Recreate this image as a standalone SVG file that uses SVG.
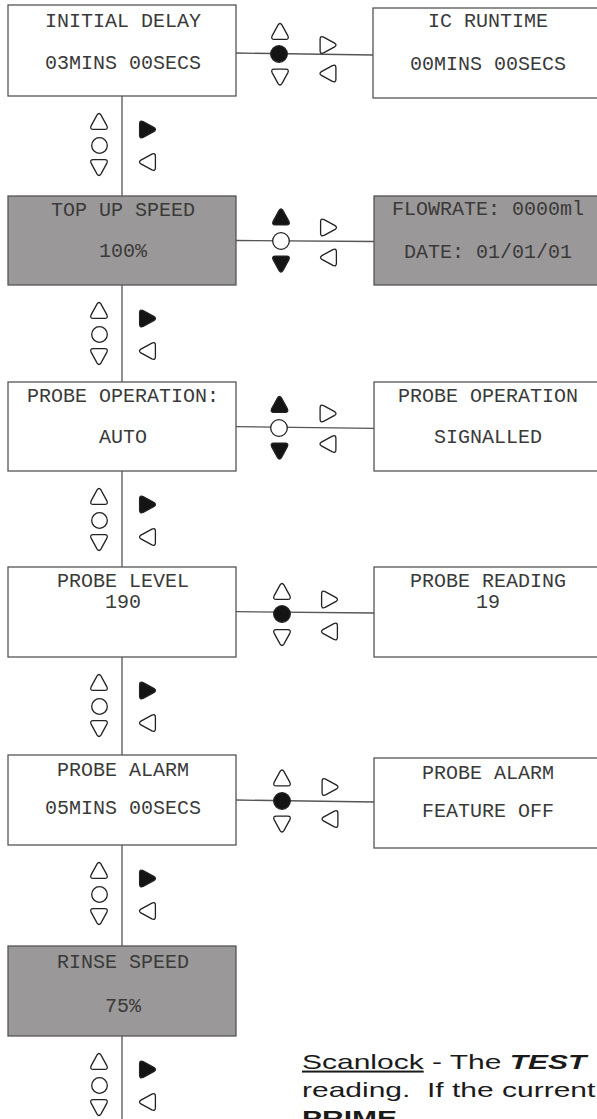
<svg xmlns="http://www.w3.org/2000/svg" width="597" height="1119" viewBox="0 0 597 1119">
  <style>
    .box { fill: #ffffff; stroke: #555555; stroke-width: 1.3; }
    .box.lit { fill: #9a9898; }
    .lbl { font-family: "Liberation Mono", "Courier New", monospace; font-size: 20px; fill: #3a3a3a; text-anchor: middle; }
    .wire { stroke: #555555; stroke-width: 1.3; fill: none; }
    .key { stroke: #222222; stroke-width: 1.3; fill: #ffffff; }
    .key.on { fill: #141414; }
    .note { font-family: "Liberation Sans", Arial, sans-serif; font-size: 20px; fill: #1a1a1a; white-space: pre; }
  </style>
  <defs>
    <!-- rounded triangle pointing up, centred on the origin -->
    <path id="tri" d="M -1.9,-6.6 Q 0,-9.4 1.9,-6.6 L 7.9,4.4 Q 9.4,7.9 5.7,7.9 L -5.7,7.9 Q -9.4,7.9 -7.9,4.4 Z"/>
  </defs>

  <!-- connectors -->
  <g id="connectors">
    <line class="wire" x1="122" y1="96" x2="122" y2="196"/>
    <line class="wire" x1="122" y1="285" x2="122" y2="382"/>
    <line class="wire" x1="122" y1="471" x2="122" y2="567"/>
    <line class="wire" x1="122" y1="657" x2="122" y2="755"/>
    <line class="wire" x1="122" y1="845" x2="122" y2="946"/>
    <line class="wire" x1="122" y1="1036" x2="122" y2="1119"/>
    <line class="wire" x1="236" y1="53" x2="373" y2="55"/>
    <line class="wire" x1="236" y1="240.5" x2="374" y2="241.5"/>
    <line class="wire" x1="236" y1="426.7" x2="374" y2="428.3"/>
    <line class="wire" x1="236" y1="611.7" x2="374" y2="613"/>
    <line class="wire" x1="236" y1="800" x2="374" y2="802"/>
  </g>

  <!-- screens -->
  <g id="initial-delay">
    <rect class="box" x="8" y="5" width="228" height="91"/>
    <text class="lbl" x="123" y="27">INITIAL DELAY</text>
    <text class="lbl" x="123" y="69">03MINS 00SECS</text>
  </g>
  <g id="ic-runtime">
    <rect class="box" x="373" y="8" width="229" height="90"/>
    <text class="lbl" x="488" y="27">IC RUNTIME</text>
    <text class="lbl" x="488" y="70">00MINS 00SECS</text>
  </g>
  <g id="top-up-speed">
    <rect class="box lit" x="8" y="196" width="228" height="89"/>
    <text class="lbl" x="123" y="216">TOP UP SPEED</text>
    <text class="lbl" x="123" y="257">100%</text>
  </g>
  <g id="flowrate">
    <rect class="box lit" x="374" y="196" width="228" height="89"/>
    <text class="lbl" x="488" y="215">FLOWRATE: 0000ml</text>
    <text class="lbl" x="488" y="258">DATE: 01/01/01</text>
  </g>
  <g id="probe-operation">
    <rect class="box" x="8" y="382" width="228" height="89"/>
    <text class="lbl" x="123" y="402">PROBE OPERATION:</text>
    <text class="lbl" x="123" y="443">AUTO</text>
  </g>
  <g id="probe-operation-signalled">
    <rect class="box" x="374" y="382" width="228" height="89"/>
    <text class="lbl" x="488" y="402">PROBE OPERATION</text>
    <text class="lbl" x="488" y="443">SIGNALLED</text>
  </g>
  <g id="probe-level">
    <rect class="box" x="8" y="567" width="228" height="90"/>
    <text class="lbl" x="123" y="587">PROBE LEVEL</text>
    <text class="lbl" x="123" y="608">190</text>
  </g>
  <g id="probe-reading">
    <rect class="box" x="374" y="567" width="228" height="90"/>
    <text class="lbl" x="488" y="587">PROBE READING</text>
    <text class="lbl" x="488" y="608">19</text>
  </g>
  <g id="probe-alarm">
    <rect class="box" x="8" y="755" width="228" height="90"/>
    <text class="lbl" x="123" y="776">PROBE ALARM</text>
    <text class="lbl" x="123" y="814">05MINS 00SECS</text>
  </g>
  <g id="probe-alarm-off">
    <rect class="box" x="374" y="758" width="228" height="90"/>
    <text class="lbl" x="488" y="779">PROBE ALARM</text>
    <text class="lbl" x="488" y="817">FEATURE OFF</text>
  </g>
  <g id="rinse-speed">
    <rect class="box lit" x="8" y="946" width="228" height="90"/>
    <text class="lbl" x="123" y="968">RINSE SPEED</text>
    <text class="lbl" x="123" y="1012">75%</text>
  </g>

  <!-- key presses between screens down the left column -->
  <g id="keys-down-1" transform="translate(0 96)">
    <use href="#tri" class="key" transform="translate(99 25.5)"/>
    <circle class="key" cx="99.5" cy="49.5" r="7.8"/>
    <use href="#tri" class="key" transform="translate(99 71.5) rotate(180)"/>
    <use href="#tri" class="key on" transform="translate(147.5 33.5) rotate(90)"/>
    <use href="#tri" class="key" transform="translate(147.5 66) rotate(-90)"/>
  </g>
  <g id="keys-down-2" transform="translate(0 285)">
    <use href="#tri" class="key" transform="translate(99 25.5)"/>
    <circle class="key" cx="99.5" cy="49.5" r="7.8"/>
    <use href="#tri" class="key" transform="translate(99 71.5) rotate(180)"/>
    <use href="#tri" class="key on" transform="translate(147.5 33.5) rotate(90)"/>
    <use href="#tri" class="key" transform="translate(147.5 66) rotate(-90)"/>
  </g>
  <g id="keys-down-3" transform="translate(0 471)">
    <use href="#tri" class="key" transform="translate(99 25.5)"/>
    <circle class="key" cx="99.5" cy="49.5" r="7.8"/>
    <use href="#tri" class="key" transform="translate(99 71.5) rotate(180)"/>
    <use href="#tri" class="key on" transform="translate(147.5 33.5) rotate(90)"/>
    <use href="#tri" class="key" transform="translate(147.5 66) rotate(-90)"/>
  </g>
  <g id="keys-down-4" transform="translate(0 657)">
    <use href="#tri" class="key" transform="translate(99 25.5)"/>
    <circle class="key" cx="99.5" cy="49.5" r="7.8"/>
    <use href="#tri" class="key" transform="translate(99 71.5) rotate(180)"/>
    <use href="#tri" class="key on" transform="translate(147.5 33.5) rotate(90)"/>
    <use href="#tri" class="key" transform="translate(147.5 66) rotate(-90)"/>
  </g>
  <g id="keys-down-5" transform="translate(0 845)">
    <use href="#tri" class="key" transform="translate(99 25.5)"/>
    <circle class="key" cx="99.5" cy="49.5" r="7.8"/>
    <use href="#tri" class="key" transform="translate(99 71.5) rotate(180)"/>
    <use href="#tri" class="key on" transform="translate(147.5 33.5) rotate(90)"/>
    <use href="#tri" class="key" transform="translate(147.5 66) rotate(-90)"/>
  </g>
  <g id="keys-down-6" transform="translate(0 1036)">
    <use href="#tri" class="key" transform="translate(99 25.5)"/>
    <circle class="key" cx="99.5" cy="49.5" r="7.8"/>
    <use href="#tri" class="key" transform="translate(99 71.5) rotate(180)"/>
    <use href="#tri" class="key on" transform="translate(147.5 33.5) rotate(90)"/>
    <use href="#tri" class="key" transform="translate(147.5 66) rotate(-90)"/>
  </g>

  <!-- key presses between each screen and its side screen -->
  <g id="keys-side-1">
    <use href="#tri" class="key" transform="translate(280 31.5)"/>
    <circle class="key on" cx="279" cy="54" r="8.3"/>
    <use href="#tri" class="key" transform="translate(280 77) rotate(180)"/>
    <use href="#tri" class="key" transform="translate(328 45) rotate(90)"/>
    <use href="#tri" class="key" transform="translate(328 73.5) rotate(-90)"/>
  </g>
  <g id="keys-side-2">
    <use href="#tri" class="key on" transform="translate(281 217)"/>
    <circle class="key" cx="281" cy="241" r="8.3"/>
    <use href="#tri" class="key on" transform="translate(281 264) rotate(180)"/>
    <use href="#tri" class="key" transform="translate(328.5 227.5) rotate(90)"/>
    <use href="#tri" class="key" transform="translate(328.5 257.5) rotate(-90)"/>
  </g>
  <g id="keys-side-3">
    <use href="#tri" class="key on" transform="translate(279.5 404.5)"/>
    <circle class="key" cx="279" cy="428" r="8.3"/>
    <use href="#tri" class="key on" transform="translate(279.5 451) rotate(180)"/>
    <use href="#tri" class="key" transform="translate(328 413.5) rotate(90)"/>
    <use href="#tri" class="key" transform="translate(328 444) rotate(-90)"/>
  </g>
  <g id="keys-side-4">
    <use href="#tri" class="key" transform="translate(282 591.5)"/>
    <circle class="key on" cx="282" cy="614" r="8.3"/>
    <use href="#tri" class="key" transform="translate(282 637.5) rotate(180)"/>
    <use href="#tri" class="key" transform="translate(329.5 599.5) rotate(90)"/>
    <use href="#tri" class="key" transform="translate(329.5 631.5) rotate(-90)"/>
  </g>
  <g id="keys-side-5">
    <use href="#tri" class="key" transform="translate(282 778)"/>
    <circle class="key on" cx="282" cy="801" r="8.3"/>
    <use href="#tri" class="key" transform="translate(282 824) rotate(180)"/>
    <use href="#tri" class="key" transform="translate(330 787) rotate(90)"/>
    <use href="#tri" class="key" transform="translate(330 819) rotate(-90)"/>
  </g>

  <!-- explanatory paragraph, set in a wide face -->
  <g id="scanlock-note" transform="translate(302 0) scale(1.5 1)">
    <text class="note" x="0" y="1069"><tspan text-decoration="underline">Scanlock</tspan> - The <tspan font-weight="bold" font-style="italic">TEST</tspan></text>
    <text class="note" x="0" y="1097" xml:space="preserve">reading.  If the current</text>
    <text class="note" x="0" y="1125"><tspan font-weight="bold">PRIME</tspan></text>
  </g>
</svg>
